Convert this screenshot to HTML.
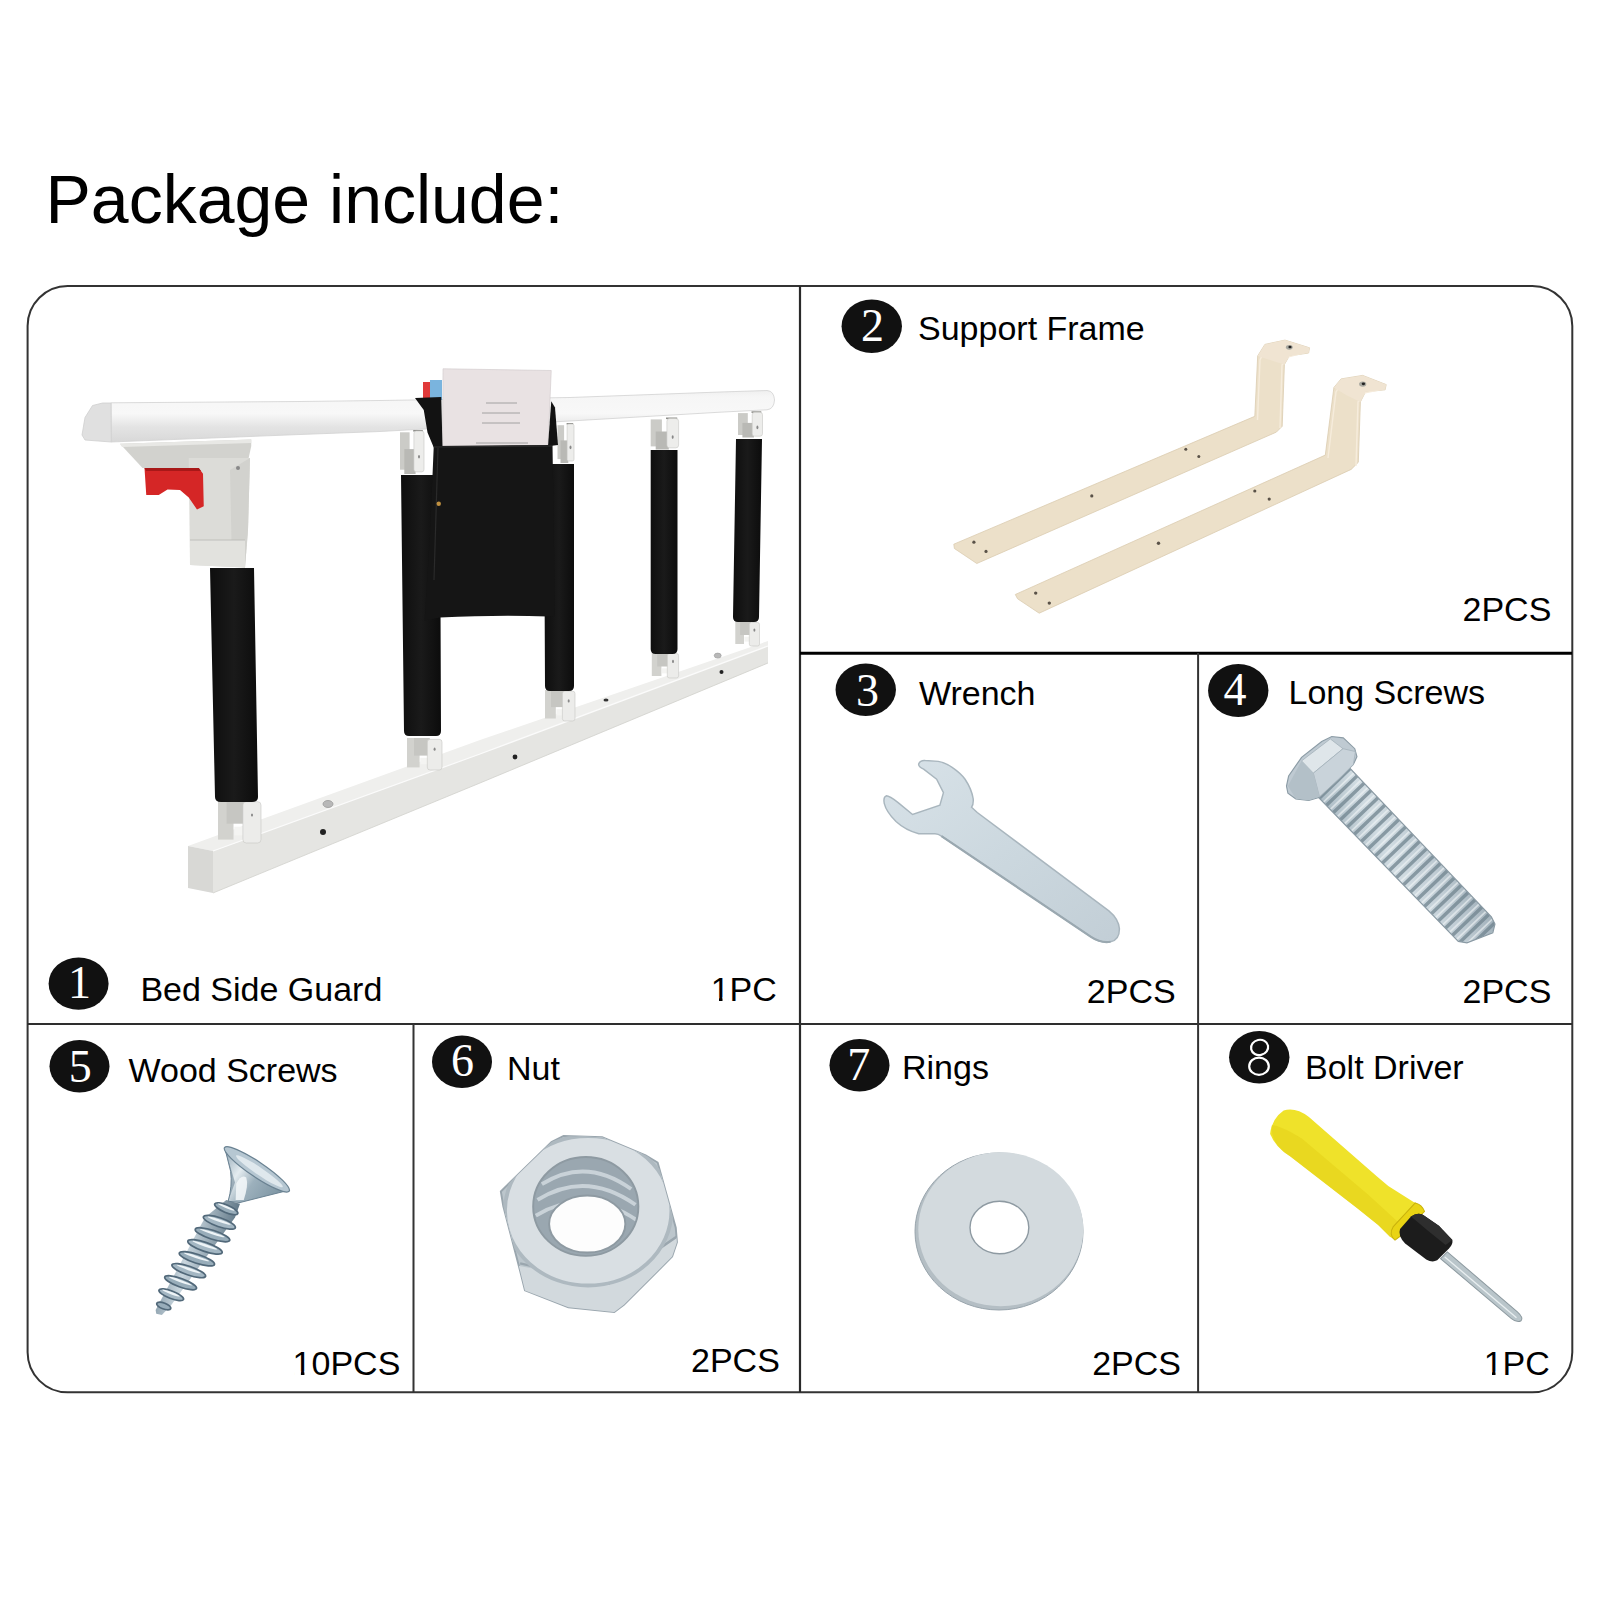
<!DOCTYPE html>
<html><head><meta charset="utf-8">
<style>
html,body{margin:0;padding:0;background:#fff;width:1600px;height:1600px;overflow:hidden}
svg{position:absolute;left:0;top:0}
.t{font-family:"Liberation Sans",sans-serif;font-size:34px;fill:#000}
.d{font-family:"Liberation Serif",serif;font-size:46px;fill:#fff;text-anchor:middle}
</style></head><body>
<svg width="1600" height="1600" viewBox="0 0 1600 1600">
<rect width="1600" height="1600" fill="#fff"/>
<!-- ITEMS -->
<g id="items">
<g id="guard">
<defs>
<linearGradient id="railg" x1="0" y1="0" x2="0" y2="1">
<stop offset="0" stop-color="#efefef"/><stop offset="0.12" stop-color="#f6f6f6"/><stop offset="0.45" stop-color="#f8f8f8"/><stop offset="0.7" stop-color="#e4e4e4"/><stop offset="1" stop-color="#d8d8d8"/>
</linearGradient>
<linearGradient id="padg" x1="0" y1="0" x2="1" y2="0">
<stop offset="0" stop-color="#0e0e0e"/><stop offset="0.5" stop-color="#1a1a1a"/><stop offset="1" stop-color="#0c0c0c"/>
</linearGradient>
</defs>
<!-- bottom bar -->
<polygon points="188,846 480,740 768,641 768,646 480,754 213,851" fill="#efefed"/>
<polygon points="213,851 480,754 768,646 768,663 480,783 213,893" fill="#e5e5e2"/>
<polygon points="188,846 213,851 213,893 188,888" fill="#d8d8d5"/>
<polyline points="213,851 480,754 768,646" fill="none" stroke="#fbfbfb" stroke-width="1.2"/>
<polyline points="213,893 480,783 768,663" fill="none" stroke="#d0d0cc" stroke-width="0.8"/>
<circle cx="323" cy="832" r="3" fill="#222"/>
<circle cx="515" cy="757" r="2.4" fill="#222"/>
<circle cx="721.5" cy="672" r="2" fill="#222"/>
<ellipse cx="328" cy="804" rx="5" ry="3.5" fill="#b8b8b8" stroke="#999" stroke-width="0.8"/>
<ellipse cx="717.7" cy="655.6" rx="3.5" ry="2.5" fill="#b8b8b8" stroke="#999" stroke-width="0.6"/>
<ellipse cx="606" cy="700" rx="2.5" ry="1.5" fill="#333"/>
<!-- bottom brackets -->
<rect x="218.0" y="800.0" width="15.5" height="39.6" fill="#d2d2ce"/><rect x="226.6" y="800.0" width="19.4" height="23.7" fill="#c6c6c2"/><rect x="234.3" y="826.7" width="9.5" height="8.6" fill="#f4f4f2"/><rect x="242.9" y="801.7" width="18.1" height="41.3" rx="3.4" fill="#ececea" stroke="#c8c8c4" stroke-width="0.6"/><ellipse cx="252.0" cy="815.0" rx="1" ry="1.6" fill="#888"/>
<rect x="407.0" y="738.0" width="12.6" height="29.4" fill="#d2d2ce"/><rect x="414.0" y="738.0" width="15.8" height="17.6" fill="#c6c6c2"/><rect x="420.3" y="757.8" width="7.7" height="6.4" fill="#f4f4f2"/><rect x="427.3" y="739.3" width="14.7" height="30.7" rx="2.8" fill="#ececea" stroke="#c8c8c4" stroke-width="0.6"/><ellipse cx="434.6" cy="749.2" rx="1" ry="1.6" fill="#888"/>
<rect x="545.0" y="690.0" width="10.8" height="28.5" fill="#d2d2ce"/><rect x="551.0" y="690.0" width="13.5" height="17.1" fill="#c6c6c2"/><rect x="556.4" y="709.2" width="6.6" height="6.2" fill="#f4f4f2"/><rect x="562.4" y="691.2" width="12.6" height="29.8" rx="2.4" fill="#ececea" stroke="#c8c8c4" stroke-width="0.6"/><ellipse cx="568.7" cy="700.9" rx="1" ry="1.6" fill="#888"/>
<rect x="651.8" y="652.5" width="9.6" height="23.5" fill="#d2d2ce"/><rect x="657.2" y="652.5" width="12.1" height="14.0" fill="#c6c6c2"/><rect x="662.0" y="668.3" width="5.9" height="5.1" fill="#f4f4f2"/><rect x="667.3" y="653.5" width="11.3" height="24.5" rx="2.1" fill="#ececea" stroke="#c8c8c4" stroke-width="0.6"/><ellipse cx="673.0" cy="661.4" rx="1" ry="1.6" fill="#888"/>
<rect x="735.3" y="621.5" width="8.7" height="22.5" fill="#d2d2ce"/><rect x="740.1" y="621.5" width="10.9" height="13.5" fill="#c6c6c2"/><rect x="744.5" y="636.7" width="5.3" height="4.9" fill="#f4f4f2"/><rect x="749.3" y="622.5" width="10.2" height="23.5" rx="1.9" fill="#ececea" stroke="#c8c8c4" stroke-width="0.6"/><ellipse cx="754.4" cy="630.1" rx="1" ry="1.6" fill="#888"/>
<!-- pads -->
<g fill="url(#padg)">
<path d="M210,568 L254,568 L258,797 Q258,802 252,802 L221,802 Q215,802 215,797 Z"/>
<path d="M401,475 L440,475 L441,731 Q441,736 436,736 L409,736 Q404,736 404,731 Z"/>
<path d="M544,464 L574,464 L574,686 Q574,691 569,691 L550,691 Q545,691 545,686 Z"/>
<path d="M650.7,450 L677.5,450 L677.5,649 Q677.5,654 672.5,654 L655.7,654 Q650.7,654 650.7,649 Z"/>
<path d="M736,439 L762,439 L759,617 Q759,622 754,622 L738,622 Q733,622 733,617 Z"/>
</g>
<!-- rail -->
<path d="M111,402.8 L300,401.5 L380,400.5 L570,397.5 L720,392 L767,390.5 Q774,391 774.5,400 Q774,409 767,409.8 L720,412.2 L570,421 L380,431.5 L300,434.5 L111,442 Z" fill="url(#railg)" stroke="#d2d2d2" stroke-width="0.8"/>
<polygon points="82,435 85,417.5 92.5,405.5 102.5,403 111,403 111.25,442 85,440" fill="#e0e0e0" stroke="#cfcfcf" stroke-width="0.8"/>
<!-- top brackets -->
<rect x="400.0" y="432.3" width="9.6" height="37.4" fill="#cbcbc7"/><rect x="413.2" y="430.0" width="9.6" height="1.6" fill="#8f8f8b"/><rect x="404.3" y="449.1" width="11.3" height="24.9" fill="#b9b9b5"/><rect x="413.9" y="431.0" width="10.1" height="40.9" rx="2.4" fill="#ededeb" stroke="#c8c8c4" stroke-width="0.6"/><ellipse cx="419.0" cy="456.8" rx="1" ry="1.8" fill="#888"/>
<rect x="557.5" y="425.2" width="6.6" height="33.9" fill="#cbcbc7"/><rect x="566.6" y="423.0" width="6.6" height="1.6" fill="#8f8f8b"/><rect x="560.5" y="440.4" width="7.8" height="22.6" fill="#b9b9b5"/><rect x="567.1" y="424.0" width="6.9" height="37.0" rx="1.7" fill="#ededeb" stroke="#c8c8c4" stroke-width="0.6"/><ellipse cx="570.5" cy="447.4" rx="1" ry="1.8" fill="#888"/>
<rect x="650.7" y="419.4" width="11.2" height="27.0" fill="#cbcbc7"/><rect x="666.0" y="417.5" width="11.2" height="1.6" fill="#8f8f8b"/><rect x="655.7" y="431.5" width="13.1" height="18.0" fill="#b9b9b5"/><rect x="666.9" y="418.5" width="11.7" height="29.4" rx="2.8" fill="#ededeb" stroke="#c8c8c4" stroke-width="0.6"/><ellipse cx="672.7" cy="437.1" rx="1" ry="1.8" fill="#888"/>
<rect x="738.0" y="413.1" width="9.8" height="21.9" fill="#cbcbc7"/><rect x="751.5" y="411.3" width="9.8" height="1.6" fill="#8f8f8b"/><rect x="742.4" y="422.9" width="11.5" height="14.6" fill="#b9b9b5"/><rect x="752.2" y="412.3" width="10.3" height="23.9" rx="2.5" fill="#ededeb" stroke="#c8c8c4" stroke-width="0.6"/><ellipse cx="757.4" cy="427.4" rx="1" ry="1.8" fill="#888"/>
<!-- left hinge bracket -->
<polygon points="120,443.75 251.25,439.5 251.25,446 246,470 142.5,468" fill="#d2d2ce"/>
<polygon points="120,443.75 251.25,439.5 251.25,443 122,447" fill="#e8e8e5"/>
<polygon points="188.75,458 250,458 248,530 245,567.5 190,565" fill="#dcdcd8"/>
<polygon points="230,470 250,458 248,530 245,567.5 232,566" fill="#d2d2ce"/>
<polygon points="190,540 245,540 245,567.5 190,565" fill="#e2e2de"/>
<line x1="190" y1="540" x2="245" y2="540" stroke="#b8b8b4" stroke-width="0.8"/>
<circle cx="238" cy="468" r="2" fill="#888"/>
<polygon points="144.5,468 198.75,468 203,473.75 203.75,506.25 197,509.5 188.75,497.5 180,490 167.5,489.5 158.75,495 146.25,495" fill="#d52626"/>
<polygon points="144.5,468 198.75,468 201,471 146,471" fill="#a81818"/>
<!-- pocket -->
<rect x="423" y="382" width="7" height="18" fill="#e03a3a"/>
<rect x="430" y="380" width="12" height="20" fill="#7ab4de"/>
<polygon points="443,368.75 551.25,370.5 548,446 442.5,447.5" fill="#e9e2e3" stroke="#cfc8c9" stroke-width="0.6"/>
<g stroke="#9a9a9a" stroke-width="0.9">
<line x1="486" y1="403" x2="517" y2="403"/>
<line x1="482" y1="413" x2="520" y2="413"/>
<line x1="482" y1="423" x2="520" y2="423"/>
<line x1="476" y1="443" x2="528" y2="443"/>
</g>
<polygon points="415,398 441.25,397 442.5,447.5 433.75,447.5 427.5,432.5 423.75,410" fill="#121212"/>
<polygon points="551.25,401.25 555,407.5 558,445 548,446.25" fill="#121212"/>
<path d="M433.75,446 L552.5,445 L555,616 L548,616.5 Q500,614.5 440,617.5 L424.6,620.5 L430,535 Z" fill="#151515"/>
<line x1="434" y1="447" x2="552" y2="446" stroke="#2e2e2e" stroke-width="1"/>
<line x1="438" y1="448" x2="434" y2="580" stroke="#2a2a2a" stroke-width="1.2"/>
<circle cx="438.75" cy="503.75" r="2.2" fill="#c09040"/>
</g>

<g id="frame">
<g fill="#ece0c9" stroke="#dacbb0" stroke-width="0.8" stroke-linejoin="round">
<polygon points="953.8,544.2 1254.8,416.3 1257.7,355.9 1264.9,344.4 1285,340.1 1309.5,347.8 1308.6,353 1289.3,355.9 1284.4,364.5 1282.2,426.3 1276.4,432.1 976.8,563.5 954.4,548.5"/>
<polygon points="1015.3,594.5 1325.3,455.1 1333.9,387.5 1341.1,378.9 1362.7,375.4 1386.2,384.6 1385.1,389.8 1365.5,391.8 1360.4,401.9 1358.3,462.3 1351.2,469.4 1039.2,613.2 1017.6,598.8"/>
</g>
<g fill="none" stroke="#f6ecdc" stroke-width="1.4">
<polyline points="1257.5,420 1260,360 1266,348"/>
<polyline points="1280,428 1282,365 1288,357 1306,352"/>
<polyline points="1328,458 1336,392 1342,382"/>
<polyline points="1356,466 1358,402 1364,393 1383,389"/>
</g>
<g fill="#f0e4d2">
<polygon points="1257.7,355.9 1264.9,344.4 1285,340.1 1309.5,347.8 1308.6,353 1289.3,355.9 1284.4,364.5 1270,360"/>
<polygon points="1333.9,387.5 1341.1,378.9 1362.7,375.4 1386.2,384.6 1385.1,389.8 1365.5,391.8 1360.4,401.9 1346,395"/>
</g>
<g fill="#5a5248">
<circle cx="973.9" cy="542.2" r="1.6"/><circle cx="986" cy="551.4" r="1.6"/>
<circle cx="1091.8" cy="495.9" r="1.6"/><circle cx="1185.8" cy="449.3" r="1.5"/><circle cx="1198.8" cy="456.5" r="1.5"/>
<circle cx="1035.7" cy="593.1" r="1.7"/><circle cx="1049.3" cy="603.1" r="1.7"/>
<circle cx="1158.5" cy="543.3" r="1.7"/><circle cx="1254.8" cy="491" r="1.6"/><circle cx="1269.2" cy="499.1" r="1.6"/>
</g>
<ellipse cx="1289.3" cy="347.3" rx="3.4" ry="2.4" fill="#a8a8a0"/>
<ellipse cx="1290" cy="347" rx="1.6" ry="1.3" fill="#222"/>
<ellipse cx="1362.7" cy="384.1" rx="3.6" ry="2.6" fill="#a8a8a0"/>
<ellipse cx="1363.4" cy="383.8" rx="1.7" ry="1.4" fill="#222"/>
</g>

<g id="wrench" transform="translate(870,750) scale(0.1625)">
<defs>
<linearGradient id="wrg" x1="0" y1="0" x2="1" y2="1">
<stop offset="0" stop-color="#d8e2e8"/><stop offset="0.5" stop-color="#ccd8df"/><stop offset="1" stop-color="#c2ced6"/>
</linearGradient>
</defs>
<path d="M300,85 Q310,62 340,65 L420,70 Q470,80 510,110 Q560,145 585,180 Q625,240 635,300 Q638,335 625,352 L660,385 L1470,990 Q1530,1040 1535,1100 Q1535,1170 1480,1180 Q1420,1190 1360,1150 L440,530 Q420,515 400,515 L300,515 Q220,495 160,440 Q100,380 88,330 Q80,290 100,282 Q120,282 175,325 L262,397 L430,340 L452,262 L410,180 L330,118 Q295,100 300,85 Z" fill="url(#wrg)" stroke="#a9b6be" stroke-width="9"/>
<path d="M440,530 L1360,1150 Q1420,1190 1480,1180" fill="none" stroke="#9aa8b0" stroke-width="14"/>
</g>

<g id="bolt" transform="translate(1280,730) scale(0.14379)">
<defs>
<linearGradient id="boltg" x1="0" y1="0.3" x2="0.7" y2="0">
<stop offset="0" stop-color="#9fb0ba"/><stop offset="0.4" stop-color="#d2dde3"/><stop offset="0.65" stop-color="#c0ccd4"/><stop offset="1" stop-color="#98a8b2"/>
</linearGradient>
<clipPath id="shaftclip"><polygon points="240,440 480,260 1470,1300 1495,1350 1480,1410 1300,1480 1240,1470"/></clipPath>
</defs>
<polygon points="240,440 480,260 1470,1300 1495,1350 1480,1410 1300,1480 1240,1470" fill="url(#boltg)"/>
<g clip-path="url(#shaftclip)">
<line x1="330" y1="320" x2="1420" y2="1460" stroke="#71848f" stroke-width="340" stroke-dasharray="24 46" stroke-dashoffset="10" opacity="0.75"/>
<line x1="350" y1="320" x2="1440" y2="1460" stroke="#f2f6f7" stroke-width="340" stroke-dasharray="12 58" stroke-dashoffset="-22" opacity="0.6"/>
</g>
<polygon points="240,440 480,260 1470,1300 1495,1350 1480,1410 1300,1480 1240,1470" fill="none" stroke="#8a9aa4" stroke-width="8"/>
<polygon points="45,390 60,320 150,190 290,80 360,45 440,55 520,130 535,185 510,240 420,330 270,470 200,490 110,480 55,440" fill="#bfcad2" stroke="#8c9ca6" stroke-width="8"/>
<polygon points="150,215 350,62 438,130 232,300" fill="#dfe6ea" stroke="#a2b0b8" stroke-width="5"/>
<polygon points="232,300 438,130 525,150 510,240 420,330 275,465" fill="#c9d3da" stroke="#a2b0b8" stroke-width="5"/>
<polygon points="55,390 150,215 232,300 275,465 200,488 110,478" fill="#b3c0c8"/>
</g>

<g id="wscrew" transform="translate(140,1130) scale(0.125)">
<defs>
<linearGradient id="wsg" x1="0" y1="0" x2="1" y2="0.25">
<stop offset="0" stop-color="#5f7888"/><stop offset="0.45" stop-color="#c9d6de"/><stop offset="1" stop-color="#587080"/>
</linearGradient>
<linearGradient id="wsh" x1="0" y1="0" x2="1" y2="0.6">
<stop offset="0" stop-color="#8ea4b2"/><stop offset="0.35" stop-color="#e4ecf0"/><stop offset="0.6" stop-color="#9cb0bc"/><stop offset="1" stop-color="#7e96a4"/>
</linearGradient>
</defs>
<polygon points="690,560 800,590 760,700 250,1400 175,1480 130,1470 125,1440 520,700" fill="url(#wsg)"/>
<ellipse cx="690" cy="630" rx="100" ry="30" transform="rotate(23 690 630)" fill="#98adba" stroke="#52697a" stroke-width="14"/>
<ellipse cx="684" cy="618" rx="72" ry="9" transform="rotate(23 690 630)" fill="#eef4f7"/>
<ellipse cx="635" cy="738" rx="135" ry="36" transform="rotate(19 635 738)" fill="#a4b7c3" stroke="#52697a" stroke-width="14"/>
<ellipse cx="629" cy="726" rx="97" ry="10" transform="rotate(19 635 738)" fill="#eef4f7"/>
<ellipse cx="580" cy="838" rx="145" ry="36" transform="rotate(18 580 838)" fill="#98adba" stroke="#52697a" stroke-width="14"/>
<ellipse cx="574" cy="826" rx="104" ry="10" transform="rotate(18 580 838)" fill="#eef4f7"/>
<ellipse cx="520" cy="935" rx="145" ry="36" transform="rotate(19 520 935)" fill="#a4b7c3" stroke="#52697a" stroke-width="14"/>
<ellipse cx="514" cy="923" rx="104" ry="10" transform="rotate(19 520 935)" fill="#eef4f7"/>
<ellipse cx="455" cy="1030" rx="148" ry="36" transform="rotate(18 455 1030)" fill="#98adba" stroke="#52697a" stroke-width="14"/>
<ellipse cx="449" cy="1018" rx="106" ry="10" transform="rotate(18 455 1030)" fill="#eef4f7"/>
<ellipse cx="390" cy="1125" rx="142" ry="35" transform="rotate(19 390 1125)" fill="#a4b7c3" stroke="#52697a" stroke-width="14"/>
<ellipse cx="384" cy="1113" rx="102" ry="10" transform="rotate(19 390 1125)" fill="#eef4f7"/>
<ellipse cx="325" cy="1222" rx="135" ry="34" transform="rotate(20 325 1222)" fill="#98adba" stroke="#52697a" stroke-width="14"/>
<ellipse cx="319" cy="1210" rx="97" ry="10" transform="rotate(20 325 1222)" fill="#eef4f7"/>
<ellipse cx="250" cy="1318" rx="105" ry="30" transform="rotate(21 250 1318)" fill="#a4b7c3" stroke="#52697a" stroke-width="14"/>
<ellipse cx="244" cy="1306" rx="75" ry="9" transform="rotate(21 250 1318)" fill="#eef4f7"/>
<ellipse cx="190" cy="1408" rx="60" ry="24" transform="rotate(21 190 1408)" fill="#98adba" stroke="#52697a" stroke-width="14"/>
<path d="M680,150 L1190,482 L800,580 L705,570 Q740,450 725,330 Z" fill="url(#wsh)" stroke="#6a8292" stroke-width="8"/>
<ellipse cx="935" cy="315" rx="312" ry="60" transform="rotate(34 935 315)" fill="#b6c7d2" stroke="#6a8292" stroke-width="10"/>
<ellipse cx="955" cy="330" rx="225" ry="30" transform="rotate(34 955 330)" fill="#dfe8ed"/>
<path d="M770,430 Q810,350 850,380 Q870,440 830,560 L765,560 Z" fill="#f2f6f8" opacity="0.9"/>
<path d="M705,570 Q740,450 725,330 L680,150 L760,420 Z" fill="#6f8797" opacity="0.6"/>
</g>

<g id="nut" transform="translate(414,1025) scale(0.24125)">
<defs>
<clipPath id="nutclip"><polygon points="360,690 400,650 570,485 620,460 780,465 960,540 1010,570 1085,840 1090,900 1070,960 870,1160 830,1190 640,1170 460,1100 440,1020 370,750"/></clipPath>
</defs>
<polygon points="360,690 400,650 570,485 620,460 780,465 960,540 1010,570 1085,840 1090,900 1070,960 870,1160 830,1190 640,1170 460,1100 440,1020 370,750" fill="#bcc6cc" stroke="#9aa6ae" stroke-width="8"/>
<g clip-path="url(#nutclip)">
<polygon points="300,975 807,1065 1120,860 1120,1300 300,1300" fill="#d2d9dd"/>
<polyline points="440,988 807,1072 1088,878" fill="none" stroke="#9aa6ae" stroke-width="10"/>
<ellipse cx="722" cy="770" rx="345" ry="310" fill="#d9dfe3"/>
<ellipse cx="722" cy="770" rx="345" ry="310" fill="none" stroke="#aeb9c0" stroke-width="16"/>
</g>
<ellipse cx="712" cy="752" rx="218" ry="205" fill="#9aa7b0"/>
<g fill="none" stroke="#c9d2d8" stroke-width="16">
<path d="M530,660 Q712,545 900,680"/>
<path d="M512,725 Q712,600 918,745"/>
<path d="M505,790 Q712,665 925,810"/>
</g>
<ellipse cx="712" cy="752" rx="218" ry="205" fill="none" stroke="#8e9aa2" stroke-width="8"/>
<ellipse cx="718" cy="825" rx="158" ry="118" fill="#fdfdfd" stroke="#8e9aa2" stroke-width="8"/>
</g>

<g id="washer">
<ellipse cx="999" cy="1231.5" rx="84" ry="78.5" fill="#b4bec4" stroke="#98a4ac" stroke-width="1"/>
<ellipse cx="1000.8" cy="1229.3" rx="82.5" ry="77" fill="#d3dade"/>
<ellipse cx="999.4" cy="1227.5" rx="29.4" ry="26.3" fill="#fff" stroke="#8e9aa2" stroke-width="1.4"/>
</g>

<g id="driver" transform="translate(1260,1100) scale(0.16875)">
<defs>
<linearGradient id="shg" x1="0" y1="0" x2="1" y2="-1">
<stop offset="0" stop-color="#8a989e"/><stop offset="0.5" stop-color="#dfe6e8"/><stop offset="1" stop-color="#98a6ac"/>
</linearGradient>
</defs>
<path d="M1070,940 L1110,900 L1525,1255 Q1565,1290 1545,1310 Q1520,1320 1490,1295 Z" fill="#b9c5ca" stroke="#8d9aa0" stroke-width="6"/>
<line x1="1095" y1="930" x2="1520" y2="1290" stroke="#e8eef0" stroke-width="8"/>
<path d="M60,200 Q70,110 140,62 Q210,40 290,100 L690,450 L760,510 L910,605 Q955,620 975,660 L840,800 Q805,835 770,810 L700,740 L580,645 L180,335 Q90,280 60,200 Z" fill="#efe22a"/>
<path d="M180,335 L580,645 L700,740 L770,810 Q805,835 840,800 L870,770 L640,560 L250,230 Q120,150 70,150 Q60,260 180,335 Z" fill="#e3cf18" opacity="0.55"/>
<path d="M800,830 Q760,800 790,750 L920,610 Q960,620 975,660 L840,800 Z" fill="#e9d414" stroke="#c9b20c" stroke-width="6"/>
<path d="M830,765 L895,690 Q930,665 965,680 L1060,745 L1140,830 Q1145,855 1120,880 L1050,950 Q1020,965 985,945 L860,850 Q815,805 830,765 Z" fill="#1c1c1c"/>
<path d="M895,690 Q930,665 965,680 L1060,745 L1140,830 L1100,860 L990,770 Z" fill="#2e2e2e"/>
</g>

</g>
<!-- GRID -->
<g fill="none" stroke="#333">
<rect x="27.6" y="286.1" width="1544.7" height="1106.2" rx="40" ry="40" stroke-width="2"/>
<line x1="800" y1="286" x2="800" y2="1392" stroke-width="2.2" stroke="#2a2a2a"/>
<line x1="800" y1="653.25" x2="1572" y2="653.25" stroke-width="3" stroke="#000"/>
<line x1="27.6" y1="1024" x2="1572" y2="1024" stroke-width="2.2" stroke="#2e2e2e"/>
<line x1="1198.1" y1="653" x2="1198.1" y2="1392" stroke-width="2"/>
<line x1="413.5" y1="1024" x2="413.5" y2="1392" stroke-width="2"/>
</g>
<!-- TITLE -->
<text x="45.5" y="223" style="font-family:'Liberation Sans',sans-serif;font-size:68px" fill="#000">Package include:</text>
<!-- LABELS -->
<g class="t">
<text x="140.4" y="1001">Bed Side Guard</text>
<text x="710.7" y="1001">1PC</text>
<text x="918" y="340">Support Frame</text>
<text x="1462.5" y="621">2PCS</text>
<text x="919" y="704.5">Wrench</text>
<text x="1086.8" y="1002.8">2PCS</text>
<text x="1288.5" y="704">Long Screws</text>
<text x="1462.5" y="1002.8">2PCS</text>
<text x="128.5" y="1081.5">Wood Screws</text>
<text x="292.6" y="1375">10PCS</text>
<text x="507" y="1080">Nut</text>
<text x="691" y="1372.4">2PCS</text>
<text x="902" y="1079">Rings</text>
<text x="1092.2" y="1375.2">2PCS</text>
<text x="1305" y="1079">Bolt Driver</text>
<text x="1483.7" y="1375.2">1PC</text>
</g>
<g fill="#fff">
<rect x="712.2" y="997.4" width="6.8" height="4.2"/><rect x="722.5" y="997.4" width="6.4" height="4.2"/>
<rect x="1485.2" y="1371.6" width="6.8" height="4.2"/><rect x="1495.5" y="1371.6" width="6.4" height="4.2"/>
<rect x="294.1" y="1371.4" width="6.8" height="4.2"/><rect x="304.4" y="1371.4" width="6.4" height="4.2"/>
</g>
<!-- NUMBER CIRCLES -->
<g fill="#111">
<ellipse cx="78.6" cy="983.6" rx="30" ry="26.2"/>
<ellipse cx="871.75" cy="326.25" rx="30.2" ry="26.7"/>
<ellipse cx="865.75" cy="689.75" rx="30.2" ry="26.2"/>
<ellipse cx="1238.25" cy="690.5" rx="30.2" ry="26.5"/>
<ellipse cx="79.5" cy="1066.25" rx="30" ry="26.2"/>
<ellipse cx="462" cy="1061.75" rx="30" ry="26.2"/>
<ellipse cx="859.5" cy="1065.25" rx="30" ry="26.2"/>
<ellipse cx="1259.25" cy="1057.25" rx="30.2" ry="26.2"/>
</g>
<g class="d">
<text x="79.6" y="998">1</text>
<text x="872.5" y="340.5">2</text>
<text x="867.5" y="705.5">3</text>
<text x="1235" y="704.5">4</text>
<text x="80.25" y="1082">5</text>
<text x="462.5" y="1076">6</text>
<text x="858.75" y="1080">7</text>

</g>
<g fill="none" stroke="#fff" stroke-width="2.2">
<ellipse cx="1259.6" cy="1047.4" rx="8.6" ry="7.6" transform="rotate(-12 1259.6 1047.4)"/>
<ellipse cx="1259" cy="1066.2" rx="9.8" ry="8.6"/>
</g>
</svg>
</body></html>
